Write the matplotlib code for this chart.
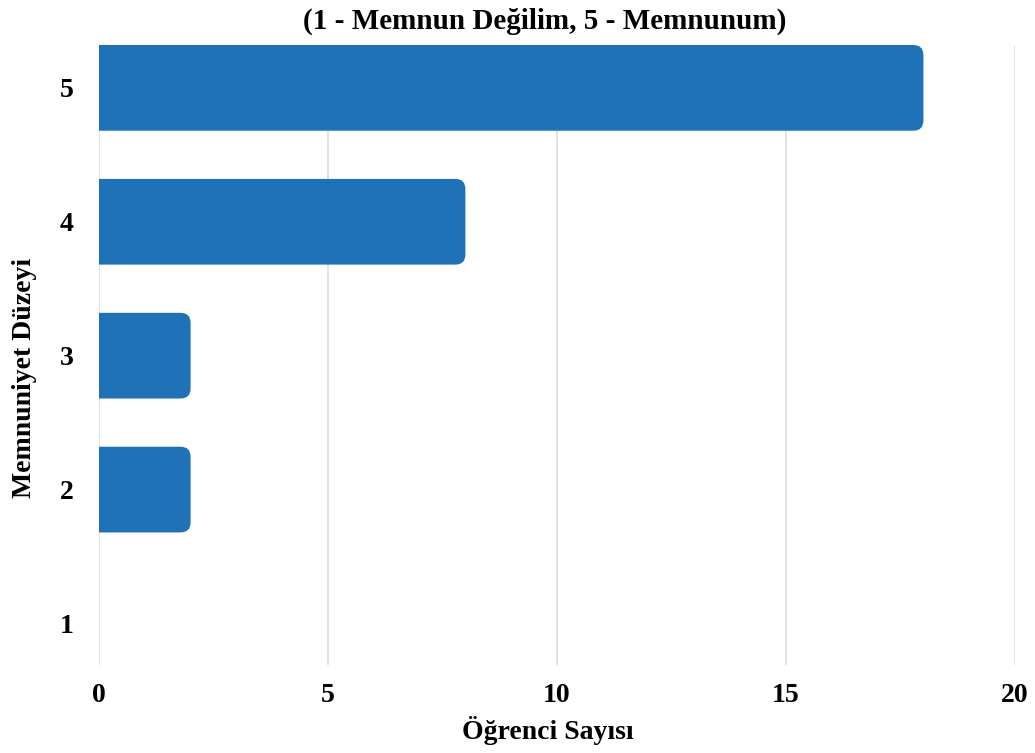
import matplotlib.pyplot as plt
from matplotlib.patches import FancyBboxPatch

# Memnuniyet düzeyleri ve öğrenci sayıları
levels = ['1', '2', '3', '4', '5']
counts = [0, 2, 2, 8, 18]
xticks = [0, 5, 10, 15, 20]

bar_color = '#1f71b8'
plt.rcParams['font.family'] = ['Liberation Serif', 'DejaVu Serif']
plt.rcParams['font.weight'] = 'bold'

fig = plt.figure(figsize=(10.35, 7.53), dpi=100)
ax = fig.add_axes([99 / 1035, 1 - 665 / 753, 916 / 1035, 620 / 753])

ypos = list(range(1, len(levels) + 1))
bar_h = 0.64
for y, c in zip(ypos, counts):
    if c <= 0:
        continue
    # rounded right end; left end pushed outside the axes and clipped
    patch = FancyBboxPatch((-1, y - bar_h / 2), c + 1, bar_h,
                           boxstyle='round,pad=0,rounding_size=0.22',
                           mutation_aspect=0.34,
                           facecolor=bar_color, edgecolor='none', zorder=3)
    ax.add_patch(patch)

ax.set_xlim(0, 20)
ax.set_ylim(0.69, 5.32)
ax.set_xticks(xticks)
ax.set_yticks(ypos)
ax.set_yticklabels(levels)
ax.xaxis.grid(True, color='#dddddd', linewidth=1.2, zorder=0)
ax.set_axisbelow(True)
for s in ax.spines.values():
    s.set_visible(False)
ax.tick_params(axis='both', length=0, labelsize=20)
ax.tick_params(axis='x', pad=13)
ax.tick_params(axis='y', pad=18)
for lab in ax.get_xticklabels() + ax.get_yticklabels():
    lab.set_fontweight('bold')

ax.set_xlabel('Öğrenci Sayısı', fontsize=20, fontweight='bold')
ax.set_ylabel('Memnuniyet Düzeyi', fontsize=20, fontweight='bold')
ax.xaxis.set_label_coords(548 / 1035, 1 - 716 / 753, transform=fig.transFigure)
ax.yaxis.set_label_coords(37 / 1035, 1 - 378 / 753, transform=fig.transFigure)
fig.text(545 / 1035, 1 - 21 / 753, '(1 - Memnun Değilim, 5 - Memnunum)',
         ha='center', va='center', fontsize=21, fontweight='bold')

fig.savefig('out.png', dpi=100)
